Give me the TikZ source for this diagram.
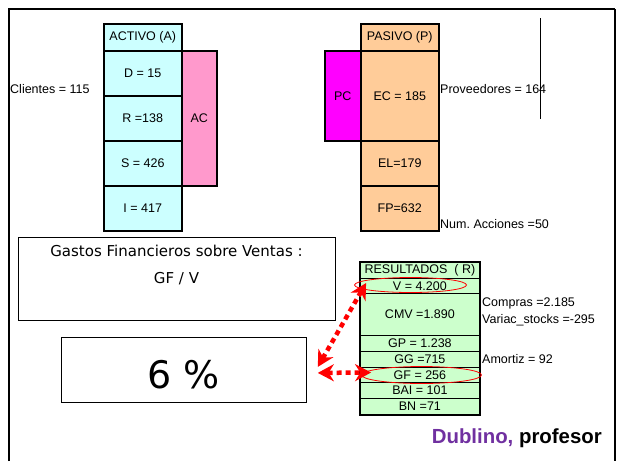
\documentclass[tikz,border=0pt]{standalone}
\usepackage{fontspec}
\setmainfont{Liberation Sans}
\newfontfamily\roundfont{DejaVu Sans}
\usepackage{xcolor}
\definecolor{activo}{RGB}{204,255,255}
\definecolor{acpink}{RGB}{255,153,204}
\definecolor{pasivo}{RGB}{255,204,153}
\definecolor{pcmag}{RGB}{255,0,255}
\definecolor{result}{RGB}{204,255,204}
\definecolor{dublino}{RGB}{112,48,160}
\usetikzlibrary{arrows.meta,shapes.geometric}

\begin{document}
\begin{tikzpicture}[x=1pt, y=-1pt, >=Stealth,
    cell/.style={draw, line width=1.5pt, inner sep=0pt, anchor=north west, minimum width=78pt, font=\fontsize{12.5}{14}\selectfont},
    rcell/.style={draw, line width=0.8pt, fill=result, inner sep=0pt, anchor=north west, minimum width=119pt, font=\fontsize{12.5}{14}\selectfont},
    note/.style={anchor=west, inner sep=0pt, font=\fontsize{12.5}{14}\selectfont},
    hilite/.style={ellipse, draw=red, line width=0.8pt, inner sep=0pt},
    link/.style={<->, red, line width=4.5pt, dash pattern=on 5pt off 4pt, >={Stealth[length=16pt,width=17pt]}}]
    \useasboundingbox (0,0) rectangle (618,461);

    % Slide frame, open at the bottom
    \draw[line width=2.5pt] (9,461) -- (9,9) -- (615,9);
    \draw[line width=1.5pt] (615,9) -- (615,461);

    % Activo side
    \node[cell, fill=acpink, minimum width=35pt, minimum height=135pt] (AC) at (181,50) {AC};
    \node[cell, fill=activo, minimum height=27pt] (aHead) at (103,23) {ACTIVO (A)};
    \node[cell, fill=activo, minimum height=45pt] (aD) at (103,50) {D = 15};
    \node[cell, fill=activo, minimum height=45pt] (aR) at (103,95) {R =138};
    \node[cell, fill=activo, minimum height=45pt] (aS) at (103,140) {S = 426};
    \node[cell, fill=activo, minimum height=45pt] (aI) at (103,185) {I = 417};
    \node[note] (clientes) at (10,89) {Clientes = 115};

    % Pasivo side
    \node[cell, fill=pcmag, minimum width=36pt, minimum height=90pt] (PC) at (324,50) {PC};
    \node[cell, fill=pasivo, minimum height=27pt] (pHead) at (360,23) {PASIVO (P)};
    \node[cell, fill=pasivo, minimum height=90pt] (pEC) at (360,50) {EC = 185};
    \node[cell, fill=pasivo, minimum height=45pt] (pEL) at (360,140) {EL=179};
    \node[cell, fill=pasivo, minimum height=45pt] (pFP) at (360,185) {FP=632};
    \node[note] (prov) at (440,89) {Proveedores = 164};
    \node[note] (acciones) at (440,224) {Num.\ Acciones =50};
    \draw[line width=0.8pt] (540,18) -- (540,119);

    % Ratio boxes
    \node[draw, line width=0.8pt, anchor=north west, minimum width=317pt, minimum height=83pt] (gastos) at (18,237) {};
    \node[anchor=north, align=center, inner sep=0pt, font=\roundfont\fontsize{15}{27}\selectfont] (gastosTxt) at (176.5,245) {Gastos Financieros sobre Ventas :\\GF / V};
    \node[draw, line width=0.8pt, anchor=north west, minimum width=245pt, minimum height=65pt, inner sep=0pt, text height=37pt, text depth=0pt, font=\roundfont\fontsize{38}{40}\selectfont] (pct) at (61,337) {6 \%};

    % Resultados table
    \node[rcell, minimum height=16pt] (rHead) at (360,262) {RESULTADOS\ \ ( R)};
    \node[rcell, minimum height=15pt] (rV) at (360,278) {V = 4.200};
    \node[rcell, minimum height=42pt] (rCMV) at (360,293) {CMV =1.890};
    \node[rcell, minimum height=16pt] (rGP) at (360,335) {GP = 1.238};
    \node[rcell, minimum height=16pt] (rGG) at (360,351) {GG =715};
    \node[rcell, minimum height=15pt] (rGF) at (360,367) {GF = 256};
    \node[rcell, minimum height=16pt] (rBAI) at (360,382) {BAI = 101};
    \node[rcell, minimum height=16pt] (rBN) at (360,398) {BN =71};
    \draw[line width=1.6pt] (rHead.north west) rectangle (rBN.south east);
    \node[note] (compras) at (482,303) {Compras =2.185};
    \node[note] (variac) at (482,320) {Variac\_stocks =-295};
    \node[note] (amortiz) at (482,359) {Amortiz = 92};

    % Highlights and links
    \node[hilite, minimum width=112pt, minimum height=15pt] (elV) at (410.5,285) {};
    \node[hilite, minimum width=120pt, minimum height=17pt] (elGF) at (421.5,375) {};
    \draw[link] ([shift={(11,-3)}]pct.east) -- ([shift={(12,-2)}]elV.west);
    \draw[link] ([shift={(11,3)}]pct.east) -- ([shift={(10,-2.5)}]elGF.west);

    \node[anchor=base east, inner sep=0pt, font=\bfseries\fontsize{20.4}{22}\selectfont] (firma) at (602,443) {\textcolor{dublino}{Dublino,} profesor};
\end{tikzpicture}
\end{document}
